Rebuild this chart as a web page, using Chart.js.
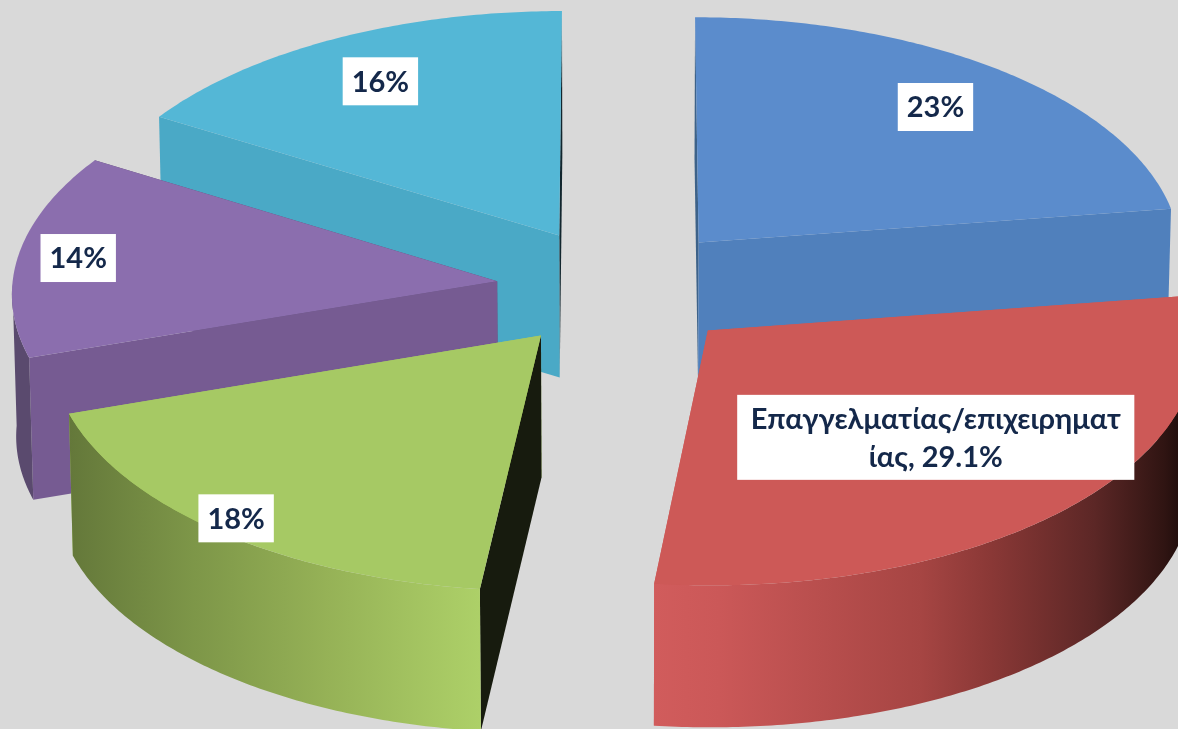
<!DOCTYPE html>
<html><head><meta charset="utf-8">
<style>html,body{margin:0;padding:0;background:#d9d9d9;overflow:hidden}canvas{display:block}</style>
<script src="https://cdn.jsdelivr.net/npm/chart.js@4"></script>
</head><body><canvas id="c" width="1178" height="729"></canvas>
<script>
const categories = ["Σειρά 1", "Επαγγελματίας/επιχειρηματίας", "Σειρά 3", "Σειρά 4", "Σειρά 5"];
const values = [22.7, 29.1, 18.1, 13.75, 16.35];
const labelLines = [["23%"], ["Επαγγελματίας/επιχειρηματ", "ίας, 29.1%"], ["18%"], ["14%"], ["16%"]];

const topColors = ["#5b8ccc", "#cd5957", "#a6c964", "#8b6eae", "#54b7d6"];
const startWallColors = ["#3d6289", "#cd5957", "#171b0e", "#765b92", "#4aa9c6"];
const endWallColors = ["#5080bc", "#cd5957", "#a6c964", "#5a4a6e", "#12262e"];
const rimStops = [
  [[0, "#5080bc"], [1, "#5080bc"]],
  [[0, "#d15c5c"], [0.12, "#cb5858"], [0.49, "#a64543"], [0.62, "#8a3836"], [0.81, "#5c2726"], [0.94, "#2f1412"], [1, "#0f0505"]],
  [[0, "#64783a"], [0.3, "#7d9648"], [0.62, "#95b156"], [1, "#add068"]],
  [[0, "#5a4a6e"], [1, "#5a4a6e"]],
  [[0, "#4aa9c6"], [1, "#4aa9c6"]]
];
const paintOrder = [4, 0, 3, 2, 1];
const labelReach = [0.78, 0.625, 0.94, 0.875, 0.78];
const labelTurn = [0, -0.5, 0.4, 0, -0.3];
const view = { tilt: 0.49, scaleX: 0.99, bowY: 0.045, bowX: 0.044, depth: 142, shrink: 0.993 };

function project(el, gx, gy) {
  const R = el.outerRadius;
  return {
    x: el.x + gx * (view.scaleX + view.bowX * gy / R),
    y: el.y + view.tilt * gy * (1 + view.bowY * gy / R)
  };
}
function drop(el, p) {
  return { x: el.x + (p.x - el.x) * view.shrink, y: p.y + view.depth };
}
function fillPoly(ctx, pts, color) {
  ctx.beginPath();
  pts.forEach((p, i) => i ? ctx.lineTo(p.x, p.y) : ctx.moveTo(p.x, p.y));
  ctx.closePath();
  ctx.fillStyle = color;
  ctx.fill();
}
function quad(ctx, el, a, b, color) {
  fillPoly(ctx, [a, b, drop(el, b), drop(el, a)], color);
}

const pie3d = {
  id: "pie3d",
  beforeDatasetDraw(chart, args) {
    const ctx = chart.ctx;
    const arcs = args.meta.data;
    ctx.save();
    paintOrder.forEach(i => {
      const el = arcs[i];
      const R = el.outerRadius, off = el.options.offset;
      const mid = (el.startAngle + el.endAngle) / 2;
      const ax = off * Math.cos(mid), ay = off * Math.sin(mid);
      const rim = a => project(el, ax + R * Math.cos(a), ay + R * Math.sin(a));
      const apex = project(el, ax, ay);
      const steps = Math.max(2, Math.ceil((el.endAngle - el.startAngle) * 90));
      const pts = [];
      for (let s = 0; s <= steps; s++) {
        const a = el.startAngle + (el.endAngle - el.startAngle) * s / steps;
        pts.push({ a, p: rim(a) });
      }
      const walls = [
        { tip: pts[0].p, color: startWallColors[i] },
        { tip: pts[steps].p, color: endWallColors[i] }
      ].sort((u, v) => u.tip.y - v.tip.y);
      walls.forEach(w => quad(ctx, el, apex, w.tip, w.color));
      const front = pts.filter(q => Math.sin(q.a) > 0).map(q => q.p);
      if (front.length > 1) {
        const xs = front.map(p => p.x);
        const g = ctx.createLinearGradient(Math.min(...xs), 0, Math.max(...xs), 0);
        rimStops[i].forEach(s => g.addColorStop(s[0], s[1]));
        fillPoly(ctx, front.concat(front.slice().reverse().map(p => drop(el, p))), g);
      }
      fillPoly(ctx, [apex].concat(pts.map(q => q.p)), el.options.backgroundColor);
    });
    ctx.restore();
    return false;
  },
  afterDatasetsDraw(chart) {
    const ctx = chart.ctx;
    const arcs = chart.getDatasetMeta(0).data;
    const lineH = 38;
    ctx.save();
    ctx.font = 'bold 29px "Lato", "Noto Sans", sans-serif';
    ctx.textAlign = "center";
    ctx.textBaseline = "middle";
    arcs.forEach((el, i) => {
      const off = el.options.offset, R = el.outerRadius;
      const mid = (el.startAngle + el.endAngle) / 2 + labelTurn[i] * Math.PI / 180;
      const d = off + R * labelReach[i];
      const c = project(el, d * Math.cos(mid), d * Math.sin(mid));
      const lines = labelLines[i];
      const many = lines.length > 1;
      const w = Math.max(...lines.map(t => ctx.measureText(t).width)) + (many ? 27 : 18);
      const h = lines.length * lineH + (many ? 9 : 10);
      ctx.fillStyle = "#ffffff";
      ctx.fillRect(c.x - w / 2, c.y - h / 2, w, h);
      ctx.fillStyle = "#14284a";
      lines.forEach((t, j) => ctx.fillText(t, c.x, c.y + (j - (lines.length - 1) / 2) * lineH + 1));
    });
    ctx.restore();
  }
};

new Chart(document.getElementById("c"), {
  type: "pie",
  data: {
    labels: categories,
    datasets: [{
      data: values,
      backgroundColor: topColors,
      borderWidth: 0,
      offset: 124
    }]
  },
  options: {
    responsive: false,
    animation: false,
    radius: 490,
    layout: { padding: { left: 60, bottom: 153 } },
    plugins: { legend: { display: false }, tooltip: { enabled: false } }
  },
  plugins: [pie3d]
});
</script></body></html>
